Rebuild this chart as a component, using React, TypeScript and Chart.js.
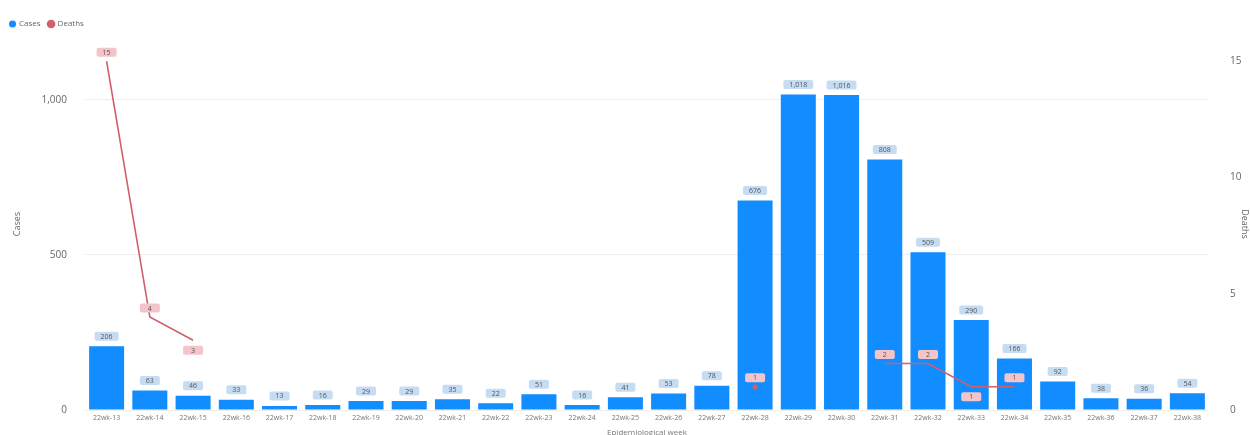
import React, { useEffect, useRef } from "react";
import { Chart, registerables } from "chart.js";

Chart.register(...registerables);

const weeks = [
  "22wk-13", "22wk-14", "22wk-15", "22wk-16", "22wk-17", "22wk-18", "22wk-19",
  "22wk-20", "22wk-21", "22wk-22", "22wk-23", "22wk-24", "22wk-25", "22wk-26",
  "22wk-27", "22wk-28", "22wk-29", "22wk-30", "22wk-31", "22wk-32", "22wk-33",
  "22wk-34", "22wk-35", "22wk-36", "22wk-37", "22wk-38",
];
const cases = [206, 63, 46, 33, 13, 16, 29, 29, 35, 22, 51, 16, 41, 53, 78, 676, 1018, 1016, 808, 509, 290, 166, 92, 38, 36, 54];
const deaths: (number | null)[] = [15, 4, 3, null, null, null, null, null, null, null, null, null, null, null, null, 1, null, null, 2, 2, 1, 1, null, null, null, null];
const deathLabelSide = ["above", "above", "below", "", "", "", "", "", "", "", "", "", "", "", "", "above", "", "", "above", "above", "below", "above", "", "", "", ""];
const casesTicks = [0, 500, 1000];
const deathsTicks = [0, 5, 10, 15];

const FONT = "'Open Sans', 'DejaVu Sans', sans-serif";

const labelPlugin = {
  id: "boxLabels",
  afterDatasetsDraw(chart: any) {
    const ctx = chart.ctx;
    ctx.save();
    ctx.font = `7px ${FONT}`;
    ctx.textAlign = "center";
    ctx.textBaseline = "middle";
    chart.data.datasets.forEach((ds: any, di: number) => {
      const meta = chart.getDatasetMeta(di);
      meta.data.forEach((el: any, i: number) => {
        const v = ds.data[i];
        if (v === null || v === undefined) return;
        const txt = Number(v).toLocaleString("en-US");
        const w = Math.max(ctx.measureText(txt).width + 12, 20);
        const h = 9;
        let cy: number;
        if (di === 0) {
          cy = el.y - 10;
          ctx.fillStyle = "#c5dcf3";
        } else {
          cy = deathLabelSide[i] === "below" ? el.y + 10 : el.y - 9;
          ctx.fillStyle = "#f3c4ca";
        }
        const x0 = el.x - w / 2;
        const y0 = cy - h / 2;
        ctx.beginPath();
        (ctx as any).roundRect(x0, y0, w, h, 2);
        ctx.fill();
        ctx.fillStyle = "#555";
        ctx.fillText(txt, el.x, cy + 0.5);
      });
    });
    ctx.restore();
  },
};

export default function App() {
  const ref = useRef<HTMLCanvasElement>(null);
  useEffect(() => {
    document.body.style.margin = "0";
    const chart = new Chart(ref.current!, {
      type: "bar",
      data: {
        labels: weeks,
        datasets: [
          {
            type: "bar",
            label: "Cases",
            data: cases,
            backgroundColor: "#118DFF",
            yAxisID: "y",
            barPercentage: 0.81,
            categoryPercentage: 1,
            order: 2,
          },
          {
            type: "line",
            label: "Deaths",
            data: deaths,
            borderColor: "#D0606B",
            backgroundColor: "#D0606B",
            borderWidth: 1.6,
            pointRadius: (c: any) => {
              const i = c.dataIndex;
              const d = c.dataset.data;
              const isolated = d[i] !== null && (i === 0 || d[i - 1] === null) && (i === d.length - 1 || d[i + 1] === null);
              return isolated ? 1.8 : 0;
            },
            pointHoverRadius: 0,
            yAxisID: "y1",
            spanGaps: false,
            order: 1,
          } as any,
        ],
      },
      options: {
        animation: false,
        responsive: false,
        maintainAspectRatio: false,
        layout: { padding: { top: 12, left: 2, right: 0, bottom: 0 } },
        plugins: {
          legend: {
            position: "top",
            align: "start",
            labels: {
              usePointStyle: true,
              pointStyle: "circle",
              boxWidth: 5,
              boxHeight: 5,
              padding: 8,
              color: "#666",
              font: { size: 8, family: FONT },
              sort: (a: any, b: any) => a.datasetIndex - b.datasetIndex,
            },
          },
          tooltip: { enabled: false },
        },
        scales: {
          x: {
            grid: { display: false, drawTicks: false },
            border: { display: false },
            afterFit: (axis: any) => {
              axis.height = 25;
            },
            ticks: {
              color: "#777",
              font: { size: 7, family: FONT },
              maxRotation: 0,
              autoSkip: false,
              padding: 4,
            },
            title: {
              display: true,
              text: "Epidemiological week",
              color: "#777",
              font: { size: 8, family: FONT },
              padding: { top: 0, bottom: -3 },
            },
          },
          y: {
            position: "left",
            min: 0,
            max: 1200,
            afterBuildTicks: (axis: any) => {
              axis.ticks = casesTicks.map((v) => ({ value: v }));
            },
            afterFit: (axis: any) => {
              axis.width = 83;
            },
            grid: { color: "#eeeeee", drawTicks: false },
            border: { display: false },
            ticks: {
              color: "#666",
              font: { size: 10, family: FONT },
              padding: 18,
              callback: (v: any) => Number(v).toLocaleString("en-US"),
            },
            title: {
              display: true,
              text: "Cases",
              color: "#666",
              font: { size: 9, family: FONT },
              padding: { top: 10, bottom: 4 },
            },
          },
          y1: {
            position: "right",
            min: 0,
            max: 16,
            afterBuildTicks: (axis: any) => {
              axis.ticks = deathsTicks.map((v) => ({ value: v }));
            },
            afterFit: (axis: any) => {
              axis.width = 41;
            },
            grid: { display: false },
            border: { display: false },
            ticks: {
              color: "#666",
              font: { size: 10, family: FONT },
              padding: 13,
            },
            title: {
              display: true,
              text: "Deaths",
              color: "#666",
              font: { size: 9, family: FONT },
              padding: 0,
            },
          },
        },
      },
      plugins: [labelPlugin],
    });
    return () => chart.destroy();
  }, []);
  return (
    <div style={{ position: "absolute", left: 0, top: 0, width: 1250, height: 435 }}>
      <canvas ref={ref} width={1250} height={435} style={{ width: 1250, height: 435 }} />
    </div>
  );
}
